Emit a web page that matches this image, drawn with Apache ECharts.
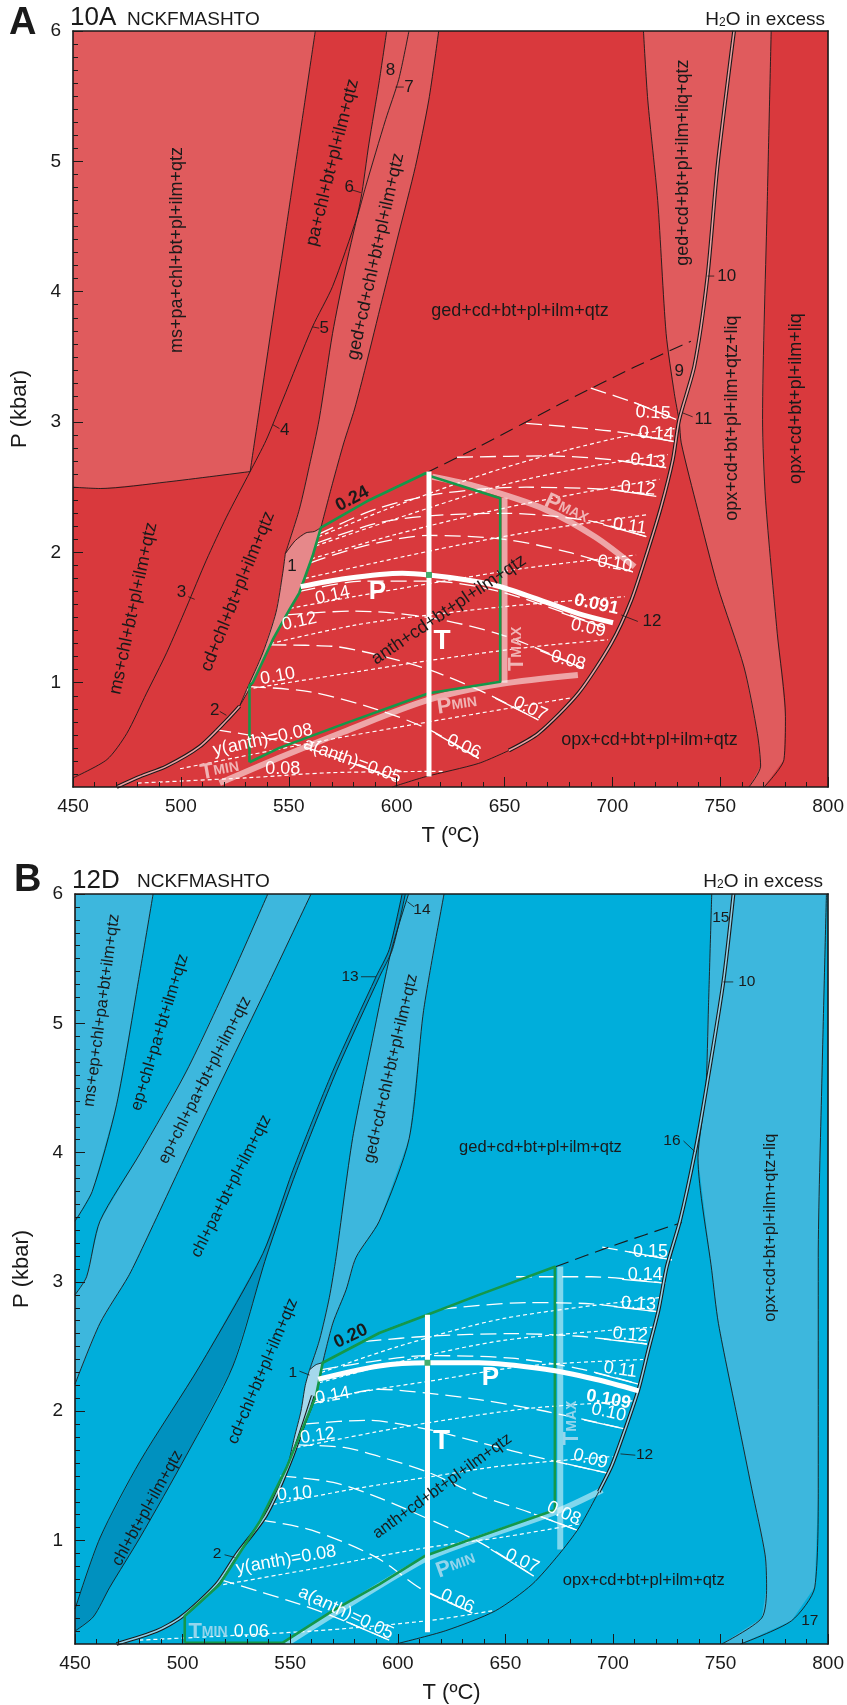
<!DOCTYPE html>
<html>
<head>
<meta charset="utf-8">
<title>Pseudosections 10A / 12D</title>
<script src="https://cdn.jsdelivr.net/npm/echarts@6.0.0/dist/echarts.min.js"></script>
<style>
html, body { margin: 0; padding: 0; background: #fff; }
#chart { width: 847px; height: 1705px; }
</style>
</head>
<body>
<div id="chart"></div>
<script>
var FONT = '"Liberation Sans", Arial, Helvetica, sans-serif';
var INK = '#1a1a1a';

// axes
var T_MIN = 450, T_MAX = 800, P_MIN = 0.2, P_MAX = 6;
var P_TICKS = [1, 2, 3, 4, 5, 6];
var P_MINOR = [];
for (var k = 3; k < 60; k++) { if (k % 10) P_MINOR.push(k / 10); }

// ================= panel A (10A) =================
// light fields
var A_msPaField = [[450,6],[562.3,6],[548.9,4.5],[535.5,3.0],[532.1,2.62],[493.4,2.54],[462.6,2.49],[450,2.5]];
var A_gedChlBand = [[595.4,6],[591.8,5.6],[587.2,5.14],[583.4,4.71],[576.4,4.19],[570.3,3.68],[564.1,3.02],[559.5,2.66],[554.9,2.33],[548.4,1.99],[553,2.09],[558,2.15],[561.8,2.16],[564.9,2.19],[570.3,2.53],[575.5,2.84],[580.5,3.1],[585.7,3.43],[593.3,3.94],[601,4.45],[608.7,4.96],[614.9,5.47],[619.5,6]];
var A_liqBand = [[714.4,6],[716.4,5.47],[721,4.7],[724.9,3.68],[728.7,3.22],[731,3.0],[731.9,2.84],[739.5,2.33],[748.8,1.74],[761,1.12],[767.2,0.61],[768.7,0.36],[763.3,0.2],[770.3,0.2],[779.5,0.41],[780.2,0.74],[776.4,1.38],[771,2.4],[769.6,3.02],[771.8,4.7],[773.6,6]];
var A_lens = [[548.4,1.99],[553,2.09],[558,2.15],[561.8,2.16],[564.9,2.19],[561,1.97],[554.9,1.69],[550.3,1.56],[542.6,1.33],[533.3,1.0],[527.2,0.82],[530.3,0.94],[538,1.23],[544.1,1.54],[547.2,1.84]];

// boundaries
var A_lineMsPa = [[562.3,6],[548.9,4.5],[535.5,3.0],[532.1,2.62]];
var A_lineMsPaBase = [[450,2.5],[462.6,2.49],[493.4,2.54],[532.1,2.62]];
var A_line3 = [[450,0.27],[465.7,0.41],[474.9,0.61],[484.1,0.92],[493.4,1.23],[502.6,1.58],[511.8,1.94],[521.1,2.27],[532.1,2.62],[539.5,2.86],[547.2,3.17],[561,3.73],[570.3,4.04],[581.8,4.58],[585.7,4.81],[594.9,5.32],[601,5.63],[605.7,6]];
var A_lineA = [[595.4,6],[591.8,5.6],[587.2,5.14],[583.4,4.71],[576.4,4.19],[570.3,3.68],[564.1,3.02],[559.5,2.66],[554.9,2.33],[548.4,1.99]];
var A_lineC = [[564.9,2.19],[570.3,2.53],[575.5,2.84],[580.5,3.1],[585.7,3.43],[593.3,3.94],[601,4.45],[608.7,4.96],[614.9,5.47],[619.5,6]];
var A_line2 = [[527.2,0.82],[521.1,0.71],[508.7,0.51],[493.4,0.36],[481.1,0.28],[470.3,0.2]];
var A_line12a = [[598,0.2],[613.4,0.279],[638,0.381],[652,0.48]];
var A_line12b = [[652,0.48],[665.7,0.612],[684.2,0.919],[699.5,1.303],[708.8,1.635],[716.5,2.019],[722.6,2.351],[728,2.71],[731,3.02],[738,3.43],[744.1,4.12],[748.7,4.96],[756.4,6]];
var A_lineD = [[714.4,6],[716.4,5.47],[721,4.7],[724.9,3.68],[728.7,3.22],[731,3.0],[731.9,2.84],[739.5,2.33],[748.8,1.74],[761,1.12],[767.2,0.61],[768.7,0.36],[763.3,0.2]];
var A_lineF = [[773.6,6],[771.8,4.7],[769.6,3.02],[771,2.4],[776.4,1.38],[780.2,0.74],[779.5,0.41],[770.3,0.2]];
var A_topSolid = [[564.9,2.19],[587.2,2.4],[613.4,2.607]];
var A_topDash = [[613.4,2.607],[638,2.81],[678,3.157],[710,3.42],[736.4,3.62]];

// a(anth) isopleths 0.05 .. 0.15 (long dash)
var A_aAnth = [
  [[516,0.64],[550,0.54],[580,0.38],[601,0.25]],
  [[532,0.97],[560,0.93],[590,0.8],[615,0.64],[638,0.42]],
  [[541.5,1.29],[570,1.28],[592,1.21],[615,1.1],[640,0.93],[665.7,0.714]],
  [[549,1.52],[580,1.55],[615,1.5],[650,1.36],[686.5,1.11]],
  [[555,1.7],[585,1.78],[615,1.78],[650,1.69],[696.5,1.42]],
  [[560,1.92],[585,2.05],[615,2.13],[650,2.1],[680,2.0],[709.5,1.85]],
  [[562.8,2.07],[590,2.22],[615,2.28],[650,2.3],[690,2.24],[715.7,2.12]],
  [[563.9,2.14],[590,2.33],[620,2.45],[660,2.5],[700,2.48],[720.3,2.43]],
  [[628,2.73],[670,2.74],[700,2.71],[724.9,2.65]],
  [[660,2.99],[700,2.93],[728.8,2.85]],
  [[690,3.26],[710,3.15],[729.5,3.02]]
];
// y(anth) isopleths (short dash)
var A_yAnth = [
  [[480,0.23],[530,0.27],[570,0.31],[622,0.32]],
  [[499.6,0.34],[561,0.54],[615,0.7],[683,0.89]],
  [[530.5,0.95],[580,1.08],[615,1.17],[660,1.27],[698,1.33]],
  [[541.5,1.3],[580,1.44],[615,1.52],[660,1.6],[705.7,1.66]],
  [[550.5,1.57],[580,1.66],[615,1.76],[660,1.88],[711,1.98]],
  [[557.5,1.8],[590,1.92],[630,2.06],[670,2.18],[716.5,2.29]],
  [[560.5,1.95],[600,2.14],[650,2.34],[690,2.47],[721.9,2.56]],
  [[562.5,2.05],[600,2.26],[650,2.52],[690,2.66],[725.7,2.75]],
  [[563.8,2.12],[600,2.36],[650,2.65],[700,2.87],[728.8,2.95]]
];
var A_isoP = [[555.5,1.737],[576.5,1.8],[602.6,1.84],[614.9,1.827],[631.9,1.79],[647.2,1.74],[668.8,1.62],[684.2,1.53],[700.3,1.46]];
var A_isoT = [[615,0.28],[615,2.62]];
var A_dot = [[615,1.827]];
var A_green = [[531.8,0.39],[531.8,0.98],[533.3,1.0],[542.6,1.33],[550.3,1.56],[554.9,1.69],[561,1.97],[564.9,2.19],[587.2,2.4],[613.4,2.607],[616.5,2.58],[648,2.415],[648,1.008],[614.9,0.919],[576.5,0.69],[545.7,0.5],[531.8,0.39]];
var A_Pmax = [[616.5,2.58],[638,2.5],[668.8,2.33],[691.9,2.12],[710.3,1.89]];
var A_Pmin = [[518,0.23],[545,0.42],[575,0.62],[615,0.87],[648,0.99],[684,1.06]];
var A_Tmax = [[650,1.0],[650,2.42]];
var A_leaders = [
  [[599.5,5.57],[603.3,5.57]], [[579.5,4.78],[583.4,4.76]], [[561,3.73],[564.1,3.72]],
  [[542.6,2.98],[545.7,2.95]], [[503.4,1.66],[506.4,1.64]], [[518,0.78],[521.1,0.75]],
  [[744.1,4.12],[747.2,4.12]], [[732.6,3.07],[737.2,3.04]], [[704.1,1.52],[711.8,1.47]]
];
var A_fieldLabels = [
  ['ms+pa+chl+bt+pl+ilm+qtz', 498, 4.32, 90],
  ['pa+chl+bt+pl+ilm+qtz', 570.3, 4.99, 76],
  ['ged+cd+chl+bt+pl+ilm+qtz', 590.3, 4.27, 77.5],
  ['ms+chl+bt+pl+ilm+qtz', 478, 1.57, 78],
  ['cd+chl+bt+pl+ilm+qtz', 526.4, 1.7, 68],
  ['ged+cd+bt+pl+ilm+qtz', 657.2, 3.85, 0],
  ['ged+cd+bt+pl+ilm+liq+qtz', 732.6, 4.99, 90],
  ['opx+cd+bt+pl+ilm+qtz+liq', 755.6, 3.03, 90],
  ['opx+cd+bt+pl+ilm+liq', 784.9, 3.18, 90],
  ['opx+cd+bt+pl+ilm+qtz', 717.2, 0.56, 0],
  ['anth+cd+bt+pl+ilm+qtz', 624.2, 1.56, 34]
];
var A_numLabels = [
  ['1', 551.5, 1.89], ['2', 515.7, 0.79], ['3', 500.3, 1.69], ['4', 548.1, 2.94], ['5', 566.4, 3.72],
  ['6', 578, 4.8], ['7', 605.7, 5.57], ['8', 597.2, 5.7], ['9', 731, 3.39], ['10', 753, 4.12],
  ['11', 742.2, 3.02], ['12', 718.3, 1.47]
];
var A_isoLabels = [
  ['0.15', 718.8, 3.07, -3], ['0.14', 720.3, 2.91, -3], ['0.13', 716.5, 2.7, -5], ['0.12', 711.9, 2.49, -5],
  ['0.11', 708, 2.2, -8], ['0.10', 701.1, 1.91, -10], ['0.09', 688.8, 1.42, -12], ['0.08', 679.5, 1.17, -15],
  ['0.07', 661.9, 0.8, -25], ['0.06', 631.1, 0.51, -25],
  ['0.14', 570.3, 1.67, 12], ['0.12', 554.9, 1.47, 12], ['0.10', 544.9, 1.05, 10],
  ['y(anth)=0.08', 538, 0.56, 12], ['a(anth)=0.05', 579.5, 0.4, -20], ['0.08', 547.2, 0.34, 0]
];
var A_boldBlack = [['0.24', 579.5, 2.41, 28]];
var A_boldWhite = [['0.091', 692.6, 1.6, -12]];
var A_bigWhite = [['P', 591.1, 1.7, 0, 26], ['T', 621.1, 1.32, 0, 28]];
var A_paleLabels = [['{a|P}{b|MAX}', 678.8, 2.33, -25], ['{a|P}{b|MIN}', 628, 0.83, 8], ['{a|T}{b|MAX}', 655.7, 1.26, 90], ['{a|T}{b|MIN}', 518, 0.33, 10]];

// ================= panel B (12D) =================
var B_msEpField = [[450,6],[486.3,6],[480.1,5.39],[469.3,4.37],[458,3.7],[450,3.47]];
var B_epPlBand = [[539.6,6],[523.4,5.39],[501.8,4.63],[480.1,3.99],[461.6,3.47],[455.4,3.04],[450,2.9],[450,2.21],[461.6,2.68],[474.7,3.04],[480.1,3.22],[501.8,3.99],[520.3,4.63],[538.9,5.27],[559.7,6]];
var B_chlBand = [[602,6],[596,5.57],[589.9,5.36],[569.8,4.63],[551.2,3.86],[537.3,3.22],[508,2.35],[480.1,1.61],[461.6,1.02],[450,0.47],[450,0.3],[458.5,0.41],[466.2,0.64],[480.1,1.02],[501.8,1.66],[523.4,2.35],[539,3.2],[553,3.86],[571.5,4.63],[591.5,5.36],[597.5,5.57],[603.5,6]];
var B_gedChlBand = [[605,6],[596.8,5.55],[588.3,4.88],[579,4.11],[571.3,3.19],[568.2,2.88],[563.6,2.55],[559,2.32],[562,2.36],[565.1,2.375],[569.8,2.68],[576,2.94],[580.6,3.19],[591.4,3.47],[605.3,4.11],[612,5.1],[621.5,6]];
var B_lens = [[559,2.32],[562,2.36],[565.1,2.375],[562,2.12],[556,1.86],[549,1.58],[552,1.8],[555,2.0],[557,2.2]];
var B_liqBand = [[745.9,6],[744.4,5.14],[743.1,4.47],[739.5,3.96],[745.9,3.09],[749,2.68],[758.3,1.91],[764.5,1.4],[770.7,0.89],[771.4,0.64],[769.1,0.4],[750.6,0.2],[759.3,0.2],[783,0.38],[793.8,0.64],[795.4,1.4],[795.4,3.19],[797,4.5],[799.2,6]];

var B_line1 = [[486.3,6],[480.1,5.39],[469.3,4.37],[458,3.7],[450,3.47]];
var B_lineL2 = [[539.6,6],[523.4,5.39],[501.8,4.63],[480.1,3.99],[461.6,3.47],[455.4,3.04],[450,2.9]];
var B_lineL3 = [[559.7,6],[538.9,5.27],[520.3,4.63],[501.8,3.99],[480.1,3.22],[474.7,3.04],[461.6,2.68],[450,2.21]];
var B_chlLeft = [[602,6],[596,5.57],[589.9,5.36],[569.8,4.63],[551.2,3.86],[537.3,3.22],[508,2.35],[480.1,1.61],[461.6,1.02],[450,0.47]];
var B_chlRight = [[603.5,6],[597.5,5.57],[591.5,5.36],[571.5,4.63],[553,3.86],[539,3.2],[523.4,2.35],[501.8,1.66],[480.1,1.02],[466.2,0.64],[458.5,0.41],[450,0.3]];
var B_lineL4 = [[605,6],[596.8,5.55],[588.3,4.88],[579,4.11],[571.3,3.19],[568.2,2.88],[563.6,2.55],[559,2.32]];
var B_lineL5 = [[621.5,6],[612,5.1],[605.3,4.11],[591.4,3.47],[580.6,3.19],[576,2.94],[569.8,2.68],[565.1,2.375]];
var B_line2 = [[560.5,2.12],[551.2,1.66],[538.9,1.2],[525,0.89],[515.7,0.66],[499.5,0.41],[487.9,0.3],[469.3,0.2]];
var B_line12a = [[599.1,0.2],[622.3,0.303],[645.4,0.457],[662.4,0.661],[674.8,0.891],[684.1,1.096],[693.4,1.377]];
var B_line12b = [[693.4,1.377],[699.5,1.582],[705.7,1.863],[711.9,2.17],[716.5,2.477],[721.2,2.784],[725,3.117],[731.2,3.475],[738.2,4.01],[743.1,4.47],[751.3,5.32],[756,6]];
var B_line15 = [[745.9,6],[744.4,5.14],[743.1,4.47],[739.5,3.96],[745.9,3.09],[749,2.68],[758.3,1.91],[764.5,1.4],[770.7,0.89],[771.4,0.64],[769.1,0.4],[750.6,0.2]];
var B_lineR = [[799.2,6],[797,4.5],[795.4,3.19],[795.4,1.4],[793.8,0.64],[783,0.38],[759.3,0.2]];
var B_topSolid = [[565.1,2.375],[591.4,2.605],[613.8,2.746],[637.7,2.9],[673.3,3.117]];
var B_topDash = [[673.3,3.117],[700,3.28],[732,3.46]];

var B_aAnth = [
  [[517,0.7],[554,0.51],[575,0.38],[596,0.23]],
  [[536,1.16],[560,1.08],[590,0.87],[611.5,0.62],[634.6,0.44]],
  [[545.5,1.5],[570,1.45],[591.4,1.33],[613.8,1.17],[637.7,0.99],[663.2,0.725]],
  [[553,1.74],[575,1.72],[591.4,1.65],[613.8,1.53],[637.7,1.35],[660.9,1.22],[683.3,1.08]],
  [[556,1.9],[585,1.93],[613.8,1.86],[637.7,1.76],[668.6,1.63],[698,1.52]],
  [[559,2.05],[591.4,2.17],[613.8,2.14],[637.7,2.09],[668.6,2.0],[706.5,1.86]],
  [[564,2.32],[590,2.39],[613.8,2.43],[653,2.41],[684.1,2.33],[711.9,2.21]],
  [[585,2.54],[613.8,2.58],[653,2.6],[684.1,2.58],[715.8,2.52]],
  [[620,2.79],[660,2.84],[690,2.83],[720.4,2.77]],
  [[655,3.04],[690,3.04],[724.3,2.99]],
  [[695,3.27],[727.4,3.17]]
];
var B_yAnth = [
  [[480,0.23],[560,0.3],[613.8,0.38],[645,0.46]],
  [[515.7,0.65],[560,0.78],[611.5,0.94],[650,1.03],[685,1.13]],
  [[542,1.28],[580,1.4],[613.8,1.49],[650,1.58],[700,1.65]],
  [[553,1.72],[590,1.84],[613.8,1.91],[660,2.02],[709,2.08]],
  [[561,2.08],[590,2.17],[613.8,2.23],[660,2.35],[714,2.4]],
  [[563.5,2.22],[600,2.38],[650,2.55],[719,2.65]],
  [[564.5,2.3],[600,2.5],[650,2.72],[722.5,2.88]]
];
var B_isoP = [[563,2.247],[591.4,2.35],[613.8,2.375],[637.7,2.375],[668.6,2.324],[691.8,2.247],[711.9,2.158]];
var B_isoT = [[613.8,0.29],[613.8,2.746]];
var B_dot = [[613.8,2.375]];
var B_green = [[501,0.21],[546.6,0.21],[569.7,0.456],[591.4,0.661],[612.3,0.878],[631.5,0.994],[673,1.237],[673,3.117],[637.7,2.9],[613.8,2.746],[591.4,2.605],[565.1,2.375],[562,2.12],[548.1,1.556],[535.8,1.145],[517.2,0.66],[501,0.417],[501,0.21]];
var B_Pmin = [[548,0.2],[570,0.43],[612,0.85],[631.5,0.98],[673,1.22],[695,1.39]];
var B_Tmax = [[675.5,0.93],[675.5,3.12]];
var B_leaders = [
  [[582.9,5.36],[589.9,5.36]], [[604.5,5.94],[607.6,5.9]], [[751.3,5.32],[755.9,5.32]],
  [[732.8,4.09],[737.9,4.01]], [[703.5,1.67],[710.4,1.66]], [[554.3,2.31],[559,2.28]], [[519.5,0.89],[524.2,0.87]]
];
var B_fieldLabels = [
  ['ms+ep+chl+pa+bt+ilm+qtz', 462.4, 5.1, 82.5],
  ['ep+chl+pa+bt+ilm+qtz', 489.4, 4.93, 73],
  ['ep+chl+pa+bt+pl+ilm+qtz', 510.3, 4.56, 63],
  ['chl+pa+bt+pl+ilm+qtz', 522.6, 3.74, 63],
  ['ged+cd+chl+bt+pl+ilm+qtz', 596.8, 4.65, 77],
  ['ged+cd+bt+pl+ilm+qtz', 666.3, 4.04, 0],
  ['opx+cd+bt+pl+ilm+qtz+liq', 773.4, 3.42, 90],
  ['opx+cd+bt+pl+ilm+qtz', 714.3, 0.69, 0],
  ['cd+chl+bt+pl+ilm+qtz', 537.3, 2.31, 67],
  ['chl+bt+pl+ilm+qtz', 483.7, 1.25, 61],
  ['anth+cd+bt+pl+ilm+qtz', 620.7, 1.42, 36]
];
var B_numLabels = [
  ['1', 551.2, 2.3], ['2', 516, 0.9], ['12', 714.7, 1.66], ['13', 577.8, 5.36], ['14', 611.2, 5.88],
  ['15', 750.1, 5.82], ['10', 762.2, 5.32], ['16', 727.4, 4.09], ['17', 791.5, 0.38]
];
var B_isoLabels = [
  ['0.15', 717.4, 3.23, 0], ['0.14', 715, 3.05, 0], ['0.13', 711.9, 2.83, -3], ['0.12', 708, 2.59, -5],
  ['0.11', 703.4, 2.32, -8], ['0.10', 698, 1.99, -12], ['0.09', 689.5, 1.63, -15], ['0.08', 677.1, 1.21, -25],
  ['0.07', 657.8, 0.84, -25], ['0.06', 627.7, 0.53, -25],
  ['0.14', 569.7, 2.12, 10], ['0.12', 562.8, 1.81, 8], ['0.10', 552, 1.36, 5],
  ['y(anth)=0.08', 548.1, 0.85, 10], ['a(anth)=0.05', 575.9, 0.44, -25], ['0.06', 531.9, 0.29, 0]
];
var B_boldBlack = [['0.20', 578.2, 2.58, 25]];
var B_boldWhite = [['0.109', 698, 2.09, -10]];
var B_bigWhite = [['P', 643.1, 2.26, 0, 26], ['T', 620.3, 1.77, 0, 28]];
var B_paleLabels = [['{a|P}{b|MIN}', 627, 0.81, 20], ['{a|T}{b|MAX}', 681, 1.91, 90], ['{a|T}{b|MIN}', 511.8, 0.29, 0]];

// ================= builders =================
var series = [];
function ax(g) { return { xAxisIndex: g * 2, yAxisIndex: g * 3 }; }

function addFill(g, pts, color, z) {
  series.push(Object.assign({
    type: 'custom', silent: true, clip: true, z: z || 1, data: pts, encode: { x: 0, y: 1 },
    renderItem: function (params, api) {
      if (params.dataIndex !== 0) return;
      return { type: 'polygon', shape: { points: pts.map(function (d) { return api.coord(d); }) }, style: { fill: color } };
    }
  }, ax(g)));
}
function addLine(g, pts, color, width, dash, z, smooth) {
  series.push(Object.assign({
    type: 'line', data: pts, symbol: 'none', showSymbol: false, silent: true, z: z || 3,
    smooth: smooth === undefined ? 0.25 : smooth,
    lineStyle: { color: color, width: width, type: dash || 'solid', cap: 'butt', join: 'round' }
  }, ax(g)));
}
function addDouble(g, pts, fill, z) {
  addLine(g, pts, INK, 3.8, 'solid', z);
  addLine(g, pts, fill, 1.6, 'solid', z);
}
// last ~20 degrees of an isopleth, drawn solid as the label underline
function tail(pts) {
  var pe = pts[pts.length - 1], pp = pts[pts.length - 2];
  var t = Math.min(1, 20 / Math.max(1e-6, pe[0] - pp[0]));
  return [[pe[0] - (pe[0] - pp[0]) * t, pe[1] - (pe[1] - pp[1]) * t], pe];
}
function addTexts(g, list, style, z) {
  series.push(Object.assign({
    type: 'custom', silent: true, clip: false, z: z || 10,
    data: list.map(function (d) { return [d[1], d[2]]; }), encode: { x: 0, y: 1 },
    renderItem: function (params, api) {
      var d = list[params.dataIndex];
      var c = api.coord([d[1], d[2]]);
      var st = Object.assign({ text: d[0], align: 'center', verticalAlign: 'middle' }, style);
      if (d[4]) st.font = 'bold ' + d[4] + 'px ' + FONT;
      return { type: 'text', x: c[0], y: c[1], rotation: (d[3] || 0) * Math.PI / 180, style: st };
    }
  }, ax(g)));
}
function addDot(g, pts, color) {
  series.push(Object.assign({
    type: 'scatter', data: pts, symbol: 'rect', symbolSize: 6, silent: true, z: 8,
    itemStyle: { color: color }
  }, ax(g)));
}

function buildPanel(g, d, col, fieldSize) {
  // fields
  d.fills.forEach(function (f) { addFill(g, f[0], f[1], 1); });
  // isopleths
  d.aAnth.forEach(function (p) {
    addLine(g, p, '#fff', 1.3, [16, 7], 3, 0.3);
    addLine(g, tail(p), '#fff', 1.3, 'solid', 3, false);
  });
  d.yAnth.forEach(function (p) { addLine(g, p, '#fff', 1.2, [4, 3], 3, 0.3); });
  // pale P-T bands
  d.pale.forEach(function (p) { addLine(g, p, col.pale, 6, 'solid', 4, 0.3); });
  // field boundaries
  d.lines.forEach(function (p) { addLine(g, p, INK, 0.9, 'solid', 5); });
  d.dash.forEach(function (p) { addLine(g, p, INK, 1.1, [14, 7], 5); });
  d.doubles.forEach(function (p) { addDouble(g, p, col.dbl, 5); });
  d.leaders.forEach(function (p) { addLine(g, p, INK, 0.8, 'solid', 5, false); });
  // green box and measured isopleths
  addLine(g, d.green, '#14984a', 2.6, 'solid', 6, false);
  addLine(g, d.isoP, '#fff', 5, 'solid', 7, 0.3);
  addLine(g, d.isoT, '#fff', 5, 'solid', 7, false);
  addDot(g, d.dot, '#14984a');
  // labels
  addTexts(g, d.fieldLabels, { fill: INK, font: fieldSize + 'px ' + FONT });
  addTexts(g, d.numLabels, { fill: INK, font: (fieldSize - 1) + 'px ' + FONT });
  addTexts(g, d.isoLabels, { fill: '#fff', font: '18px ' + FONT });
  addTexts(g, d.boldBlack, { fill: INK, font: 'bold 18px ' + FONT });
  addTexts(g, d.boldWhite, { fill: '#fff', font: 'bold 18px ' + FONT });
  addTexts(g, d.bigWhite, { fill: '#fff', font: 'bold 26px ' + FONT });
  addTexts(g, d.paleLabels, {
    fill: col.paleText, font: 'bold 20px ' + FONT,
    rich: {
      a: { fontSize: 22, fontWeight: 'bold', fontFamily: FONT, fill: col.paleText },
      b: { fontSize: 14, fontWeight: 'bold', fontFamily: FONT, fill: col.paleText }
    }
  });
}

var COL_A = { base: '#D9393D', light: '#E05B5D', lens: '#E6888A', dbl: '#EA9FA1', pale: 'rgba(255,255,255,0.55)', paleText: '#F0B4B5' };
var COL_B = { base: '#00AEDB', light: '#3DB7DD', band: '#0091BF', lens: '#A5D8EC', dbl: '#8FD0E8', pale: 'rgba(255,255,255,0.5)', paleText: '#94D5EC' };

buildPanel(0, {
  fills: [[A_msPaField, COL_A.light], [A_gedChlBand, COL_A.light], [A_liqBand, COL_A.light], [A_lens, COL_A.lens]],
  aAnth: A_aAnth, yAnth: A_yAnth,
  pale: [A_Pmax, A_Pmin, A_Tmax],
  lines: [A_lineMsPa, A_lineMsPaBase, A_line3, A_lineA, A_lineC, A_line12a, A_lineD, A_lineF, A_topSolid, A_lens.concat([A_lens[0]])],
  dash: [A_topDash],
  doubles: [A_line2, A_line12b],
  leaders: A_leaders,
  green: A_green, isoP: A_isoP, isoT: A_isoT, dot: A_dot,
  fieldLabels: A_fieldLabels, numLabels: A_numLabels, isoLabels: A_isoLabels,
  boldBlack: A_boldBlack, boldWhite: A_boldWhite, bigWhite: A_bigWhite, paleLabels: A_paleLabels
}, COL_A, 18);

buildPanel(1, {
  fills: [[B_msEpField, COL_B.light], [B_epPlBand, COL_B.light], [B_chlBand, COL_B.band], [B_gedChlBand, COL_B.light], [B_liqBand, COL_B.light], [B_lens, COL_B.lens]],
  aAnth: B_aAnth, yAnth: B_yAnth,
  pale: [B_Pmin, B_Tmax],
  lines: [B_line1, B_lineL2, B_lineL3, B_chlLeft, B_chlRight, B_lineL4, B_lineL5, B_line12a, B_line15, B_lineR, B_topSolid, B_lens.concat([B_lens[0]])],
  dash: [B_topDash],
  doubles: [B_line2, B_line12b],
  leaders: B_leaders,
  green: B_green, isoP: B_isoP, isoT: B_isoT, dot: B_dot,
  fieldLabels: B_fieldLabels, numLabels: B_numLabels, isoLabels: B_isoLabels,
  boldBlack: B_boldBlack, boldWhite: B_boldWhite, bigWhite: B_bigWhite, paleLabels: B_paleLabels
}, COL_B, 16.5);

// ================= axes =================
var axisLineStyle = { color: INK, width: 1.6 };
function xPair(g) {
  return [{
    gridIndex: g, type: 'value', min: T_MIN, max: T_MAX, interval: 50, position: 'bottom', z: 20,
    axisLine: { onZero: false, lineStyle: axisLineStyle },
    axisTick: { inside: true, length: 10, lineStyle: { color: INK, width: 1 } },
    minorTick: { show: true, splitNumber: 5, length: 5, lineStyle: { color: INK, width: 1 } },
    axisLabel: { fontSize: 19, color: INK, fontFamily: FONT, margin: 10, showMinLabel: true, showMaxLabel: true },
    splitLine: { show: false }, minorSplitLine: { show: false },
    name: 'T (ºC)', nameLocation: 'middle', nameGap: 38,
    nameTextStyle: { fontSize: 22, color: INK, fontFamily: FONT }
  }, {
    gridIndex: g, type: 'value', min: T_MIN, max: T_MAX, position: 'top', z: 20,
    axisLine: { onZero: false, lineStyle: axisLineStyle },
    axisTick: { show: false }, axisLabel: { show: false }, splitLine: { show: false }
  }];
}
function yTriple(g) {
  return [{
    gridIndex: g, type: 'value', min: P_MIN, max: P_MAX, position: 'left', z: 20,
    axisLine: { onZero: false, lineStyle: axisLineStyle },
    axisTick: { inside: true, length: 10, customValues: P_TICKS, lineStyle: { color: INK, width: 1 } },
    axisLabel: { customValues: P_TICKS, fontSize: 19, color: INK, fontFamily: FONT, margin: 12 },
    splitLine: { show: false },
    name: 'P (kbar)', nameLocation: 'middle', nameGap: 42, nameRotate: 90,
    nameTextStyle: { fontSize: 22, color: INK, fontFamily: FONT }
  }, {
    gridIndex: g, type: 'value', min: P_MIN, max: P_MAX, position: 'left', z: 20,
    axisLine: { show: false },
    axisTick: { inside: true, length: 5, customValues: P_MINOR, lineStyle: { color: INK, width: 1 } },
    axisLabel: { show: false }, splitLine: { show: false }
  }, {
    gridIndex: g, type: 'value', min: P_MIN, max: P_MAX, position: 'right', z: 20,
    axisLine: { onZero: false, lineStyle: axisLineStyle },
    axisTick: { show: false }, axisLabel: { show: false }, splitLine: { show: false }
  }];
}

function title(x, y, text, font, align) {
  return { type: 'text', x: x, y: y, silent: true, style: { text: text, font: font, fill: INK, align: align || 'left', verticalAlign: 'middle' } };
}
function h2o(xEnd, y) {
  // "H2O in excess" with subscript 2, right aligned at xEnd
  return [
    title(xEnd, y, 'O in excess', '19px ' + FONT, 'right'),
    title(xEnd - 99.3, y + 3, '2', '12px ' + FONT, 'right'),
    title(xEnd - 106, y, 'H', '19px ' + FONT, 'right')
  ];
}

var option = {
  animation: false,
  backgroundColor: '#fff',
  textStyle: { fontFamily: FONT },
  grid: [
    { left: 73, top: 31, width: 757, height: 756, show: true, backgroundColor: COL_A.base, borderWidth: 0 },
    { left: 75, top: 894, width: 755, height: 755, show: true, backgroundColor: COL_B.base, borderWidth: 0 }
  ],
  xAxis: xPair(0).concat(xPair(1)),
  yAxis: yTriple(0).concat(yTriple(1)),
  graphic: [
    title(9, 24, 'A', 'bold 38px ' + FONT),
    title(70, 18, '10A', '26px ' + FONT),
    title(127, 20, 'NCKFMASHTO', '19px ' + FONT),
    title(14, 881, 'B', 'bold 38px ' + FONT),
    title(72, 881, '12D', '26px ' + FONT),
    title(137, 882, 'NCKFMASHTO', '19px ' + FONT)
  ].concat(h2o(825, 20)).concat(h2o(823, 882)),
  series: series
};

var chart = echarts.init(document.getElementById('chart'), null, { renderer: 'canvas' });
chart.setOption(option);
</script>
</body>
</html>
